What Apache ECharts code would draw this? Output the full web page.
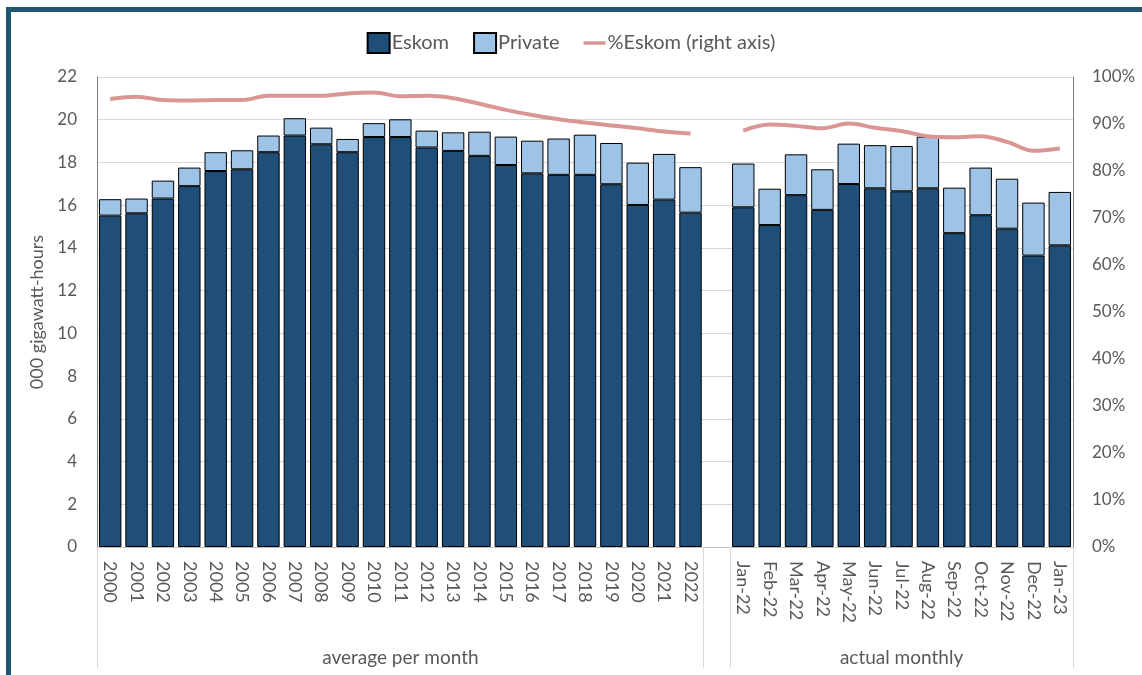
<!DOCTYPE html>
<html>
<head>
<meta charset="utf-8">
<script src="https://cdn.jsdelivr.net/npm/echarts@6/dist/echarts.min.js"></script>
<style>
  html, body { margin: 0; padding: 0; background: #fff; }
  #chart { width: 1142px; height: 675px; }
  #frame { position: absolute; left: 6px; top: 7px; right: -10px; bottom: -10px;
           border-left: 5px solid #1f5670; border-top: 5px solid #1f5670; pointer-events: none; }
</style>
</head>
<body>
<div id="chart"></div>
<div id="frame"></div>
<script>
// ---- data ----
const years = ['2000','2001','2002','2003','2004','2005','2006','2007','2008','2009','2010','2011',
               '2012','2013','2014','2015','2016','2017','2018','2019','2020','2021','2022'];
const months = ['Jan-22','Feb-22','Mar-22','Apr-22','May-22','Jun-22','Jul-22','Aug-22',
                'Sep-22','Oct-22','Nov-22','Dec-22','Jan-23'];
const groupLabels = ['average per month', 'actual monthly'];

const eskomYears = [15.51,15.62,16.31,16.89,17.60,17.68,18.48,19.26,18.85,18.48,19.19,19.19,
                    18.70,18.54,18.31,17.88,17.49,17.42,17.42,16.98,16.01,16.26,15.65];
const privateYears = [0.77,0.69,0.84,0.87,0.88,0.89,0.78,0.81,0.78,0.62,0.65,0.83,
                      0.79,0.87,1.13,1.33,1.53,1.70,1.88,1.93,1.98,2.14,2.13];
const pctYears = [95.3,95.8,95.1,95.0,95.1,95.1,96.0,96.0,96.0,96.5,96.7,95.9,
                  96.0,95.5,94.3,93.0,91.9,91.0,90.3,89.7,89.1,88.4,88.0];

const eskomMonths = [15.90,15.07,16.47,15.78,16.99,16.79,16.65,16.79,14.69,15.53,14.90,13.64,14.12];
const privateMonths = [2.05,1.70,1.91,1.90,1.89,2.02,2.12,2.42,2.13,2.23,2.34,2.48,2.50];
const pctMonths = [88.6,89.9,89.6,89.1,90.1,89.2,88.5,87.4,87.2,87.4,86.2,84.3,84.8];

// ---- build ----
const categories = [...years, '', ...months];
const gapIdx = years.length;
const eskom = [...eskomYears, null, ...eskomMonths];
const priv = [...privateYears, null, ...privateMonths];
const pct = [...pctYears, null, ...pctMonths];
const midYears = Math.floor(years.length / 2);
const midMonths = gapIdx + 1 + Math.floor(months.length / 2);
const groupAxis = categories.map((c, i) => i === midYears ? groupLabels[0] : (i === midMonths ? groupLabels[1] : ''));

const FONT = 'Lato, "Open Sans", sans-serif';
const TXT = '#595959';
const LINE_COLOR = '#da9694';

const chart = echarts.init(document.getElementById('chart'), null, { renderer: 'canvas' });
chart.setOption({
  animation: false,
  textStyle: { fontFamily: FONT },
  legend: {
    top: 27, left: 'center', itemGap: 24, itemWidth: 22, itemHeight: 20,
    textStyle: { fontSize: 20, color: TXT, fontFamily: FONT, padding: [0, 0, 0, -3] },
    data: [
      { name: 'Eskom', icon: 'rect' },
      { name: 'Private', icon: 'rect' },
      { name: '%Eskom (right axis)', icon: 'path://M0,0L32,0L32,5L0,5Z', itemStyle: { color: LINE_COLOR } }
    ]
  },
  grid: { left: 97, right: 69, top: 77, bottom: 128, containLabel: false },
  xAxis: [
    {
      type: 'category', data: categories, position: 'bottom',
      axisLine: { show: true, lineStyle: { color: '#bfbfbf', width: 1 } },
      axisTick: { show: false },
      axisLabel: { interval: 0, rotate: -90, margin: 14, fontSize: 18, color: TXT, fontFamily: FONT }
    },
    {
      type: 'category', data: groupAxis, position: 'bottom', offset: 0,
      axisLine: { show: false },
      axisTick: { show: true, length: 121, inside: false,
                  interval: (i) => i === 0 || i === gapIdx || i === gapIdx + 1,
                  lineStyle: { color: '#d9d9d9', width: 1 } },
      axisLabel: { interval: 0, margin: 101, fontSize: 19, color: TXT, fontFamily: FONT }
    }
  ],
  yAxis: [
    {
      type: 'value', min: 0, max: 22, interval: 2,
      name: '000 gigawatt-hours', nameLocation: 'middle', nameGap: 48, nameRotate: 90,
      nameTextStyle: { fontSize: 18, color: TXT, fontFamily: FONT },
      axisLine: { show: true, lineStyle: { color: '#7f7f7f', width: 1 } },
      axisTick: { show: false },
      axisLabel: { fontSize: 17, color: TXT, margin: 20, fontFamily: FONT },
      splitLine: { show: true, lineStyle: { color: '#d9d9d9', width: 1 } }
    },
    {
      type: 'value', min: 0, max: 100, interval: 10, position: 'right',
      axisLine: { show: true, lineStyle: { color: '#7f7f7f', width: 1 } },
      axisTick: { show: false },
      axisLabel: { fontSize: 17, color: TXT, margin: 19, formatter: '{value}%', fontFamily: FONT },
      splitLine: { show: false }
    }
  ],
  series: [
    {
      name: 'Eskom', type: 'bar', stack: 'gen', data: eskom, xAxisIndex: 0, yAxisIndex: 0,
      barCategoryGap: '15%',
      itemStyle: { color: '#1f4e79', borderColor: '#000', borderWidth: 1 }
    },
    {
      name: 'Private', type: 'bar', stack: 'gen', data: priv, xAxisIndex: 0, yAxisIndex: 0,
      barCategoryGap: '15%',
      itemStyle: { color: '#9dc3e6', borderColor: '#000', borderWidth: 1 }
    },
    {
      name: '%Eskom (right axis)', type: 'line', data: pct, xAxisIndex: 0, yAxisIndex: 1,
      smooth: 0.35, symbol: 'none', connectNulls: false,
      lineStyle: { color: LINE_COLOR, width: 4 },
      itemStyle: { color: LINE_COLOR }
    }
  ]
});
</script>
</body>
</html>
